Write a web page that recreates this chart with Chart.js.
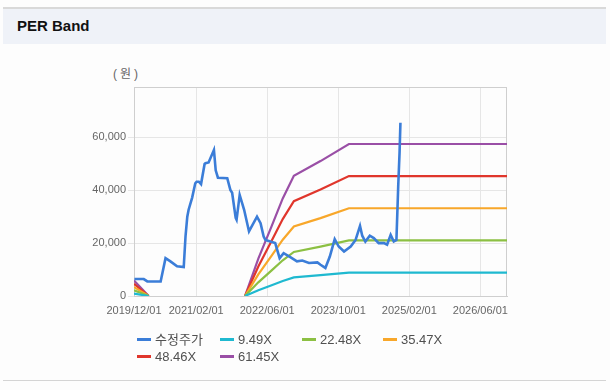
<!DOCTYPE html>
<html>
<head>
<meta charset="utf-8">
<script src="https://cdn.jsdelivr.net/npm/chart.js@4.4.1/dist/chart.umd.min.js"></script>
<style>
  html, body { margin: 0; padding: 0; background: #fdfdfd; }
  body { width: 610px; height: 390px; position: relative; overflow: hidden;
         font-family: "Liberation Sans", Arial, "Noto Sans CJK KR", sans-serif; }
  #topline { position: absolute; left: 3px; width: 603px; top: 7px; height: 2px; background: #d9d9d9; }
  #header { position: absolute; left: 3px; width: 603px; top: 9px; height: 35px; background: #eff2f8; }
  #title { position: absolute; left: 17px; top: 17px; font-size: 15px; font-weight: bold; color: #111;
           font-family: "Liberation Sans", Arial, sans-serif; line-height: 18px; }
  #bottomline { position: absolute; left: 3px; width: 603px; top: 380px; height: 1px; background: #d4d4d4; }
  #unit { position: absolute; left: 113px; top: 66px; font-size: 12px; color: #666; line-height: 16px; letter-spacing: 3px;
          font-family: "Liberation Sans", Arial, "Noto Sans CJK KR", sans-serif; }
  #chart { position: absolute; left: 0; top: 0; }
  .lg { position: absolute; font-size: 13px; color: #505050; line-height: 16px; white-space: nowrap;
        font-family: "Liberation Sans", Arial, "Noto Sans CJK KR", sans-serif; }
  .lg i { display: inline-block; width: 14px; height: 3px; vertical-align: middle; margin-right: 4px; position: relative; top: -1px; }
</style>
</head>
<body>
<div id="topline"></div>
<div id="header"></div>
<div id="title">PER Band</div>
<div id="unit">(원)</div>
<canvas id="chart" width="610" height="390"></canvas>
<div id="legend"></div>
<div id="bottomline"></div>
<script>
// x values are months since 2019/12/01
const xTickMonths = [0, 14, 30, 46, 62, 78];
const xTickLabels = ['2019/12/01', '2021/02/01', '2022/06/01', '2023/10/01', '2025/02/01', '2026/06/01'];

const seriesNames = ['수정주가', '9.49X', '22.48X', '35.47X', '48.46X', '61.45X'];
const seriesColors = ['#3b7dd8', '#1fb9d0', '#8cc043', '#f8a72a', '#e0362c', '#9a4fa6'];

const priceMonths = [0.1, 2.2, 3.0, 6.0, 7.1, 8.2, 9.7, 11.2, 11.6, 12.0, 12.3, 13.1, 13.8, 14.1, 14.6, 15.1, 15.9, 16.1, 16.8, 18.0, 18.4, 18.9, 21.0, 21.7, 22.1, 22.9, 23.1, 23.8, 24.8, 25.9, 27.7, 28.5, 29.2, 29.6, 30.7, 31.8, 32.8, 33.7, 35.2, 36.7, 37.9, 39.4, 41.3, 42.0, 43.1, 44.1, 45.2, 46.1, 47.3, 48.8, 49.9, 50.9, 51.4, 52.1, 53.1, 54.0, 55.1, 56.3, 57.0, 57.8, 58.5, 59.1, 59.3, 59.5, 59.8, 60.0];
const priceValues = [6400, 6400, 5500, 5500, 14300, 13100, 11200, 10900, 22500, 30000, 32600, 37200, 42600, 43200, 43200, 42300, 49900, 50200, 50500, 55200, 47500, 44700, 44500, 40100, 39000, 29500, 28800, 38200, 32600, 24400, 30000, 27500, 22500, 21200, 20600, 20000, 14300, 16200, 14700, 13100, 13400, 12500, 12700, 11800, 10600, 14900, 21500, 18700, 16800, 18700, 21200, 26500, 22800, 20600, 22800, 21900, 20000, 20000, 19400, 23100, 20600, 21200, 31300, 41400, 54000, 65500];

// band lines share these months (null = gap)
const bandMonths = [0, 3.3, 10, 25, 28, 31, 33.5, 36, 42, 48.4, 84];
const band949  = [900, 0, null, 0, 2180, 4080, 5690, 7020, 7880, 8870, 8870];
const band2248 = [2140, 0, null, 0, 5170, 9670, 13490, 16640, 18660, 21020, 21020];
const band3547 = [3370, 0, null, 0, 8160, 15250, 21280, 26250, 29440, 33160, 33160];
const band4846 = [4600, 0, null, 0, 11150, 20840, 29080, 35860, 40220, 45310, 45310];
const band6145 = [5840, 0, null, 0, 14130, 26420, 36870, 45470, 51000, 57460, 57460];

const yTicks = [0, 20000, 40000, 60000];
const yMax = 79000;

function pts(xs, ys) { return xs.map((x, i) => ({ x: x, y: ys[i] })); }

const seriesData = [pts(priceMonths, priceValues), pts(bandMonths, band949), pts(bandMonths, band2248),
                    pts(bandMonths, band3547), pts(bandMonths, band4846), pts(bandMonths, band6145)];

const datasets = seriesNames.map((n, i) => ({
  label: n,
  data: seriesData[i],
  borderColor: seriesColors[i],
  backgroundColor: seriesColors[i],
  borderWidth: i === 0 ? 2.6 : 2.2,
  pointRadius: 0,
  tension: 0,
  spanGaps: false,
  fill: false
}));

const framePlugin = {
  id: 'frame',
  beforeDatasetsDraw(chart) {
    const a = chart.chartArea, c = chart.ctx;
    c.save();
    c.strokeStyle = '#cfcfcf';
    c.lineWidth = 1;
    c.strokeRect(Math.round(a.left) + 0.5, Math.round(a.top) + 0.5, Math.round(a.right - a.left) - 1, Math.round(a.bottom - a.top));
    c.restore();
  }
};

new Chart(document.getElementById('chart'), {
  type: 'line',
  data: { datasets },
  plugins: [framePlugin],
  options: {
    responsive: false,
    animation: false,
    devicePixelRatio: 1,
    layout: { padding: { left: 0, top: 87, right: 103, bottom: 64 } },
    plugins: { legend: { display: false }, tooltip: { enabled: false } },
    scales: {
      x: {
        type: 'linear', min: 0, max: 84,
        afterBuildTicks: s => { s.ticks = xTickMonths.map(v => ({ value: v })); },
        afterFit: s => { s.height = 30; },
        ticks: {
          autoSkip: false, maxRotation: 0, padding: 8, color: '#666',
          font: { size: 11, family: '"Liberation Sans", Arial, sans-serif' },
          callback: v => { const i = xTickMonths.indexOf(v); return i >= 0 ? xTickLabels[i] : ''; }
        },
        grid: { color: '#e6e6e6', drawTicks: false },
        border: { color: '#cfcfcf' }
      },
      y: {
        min: 0, max: yMax,
        afterBuildTicks: s => { s.ticks = yTicks.map(v => ({ value: v })); },
        afterFit: s => { s.width = 134; },
        ticks: {
          padding: 2, color: '#666',
          font: { size: 11, family: '"Liberation Sans", Arial, sans-serif' },
          callback: v => v.toLocaleString('en-US')
        },
        grid: { color: '#e6e6e6', tickLength: 6 },
        border: { color: '#cfcfcf' }
      }
    }
  }
});

// HTML legend in fixed columns
const legendPos = [[137, 332], [220, 332], [302, 332], [383, 332], [137, 349], [220, 349]];
const lg = document.getElementById('legend');
seriesNames.forEach((n, i) => {
  const d = document.createElement('div');
  d.className = 'lg';
  d.style.left = legendPos[i][0] + 'px';
  d.style.top = legendPos[i][1] + 'px';
  d.innerHTML = '<i style="background:' + seriesColors[i] + '"></i>' + n;
  lg.appendChild(d);
});
</script>
</body>
</html>
